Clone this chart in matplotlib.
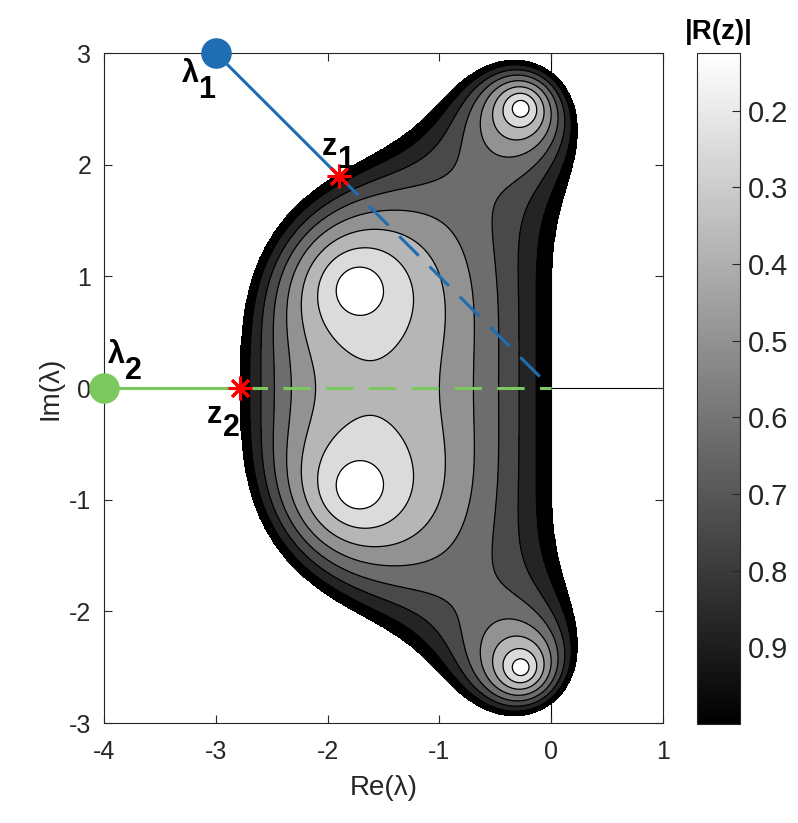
import numpy as np
import matplotlib
matplotlib.use("Agg")
import matplotlib.pyplot as plt
from matplotlib.colors import Normalize
import matplotlib.cm as cm

plt.rcParams['font.family'] = ['Liberation Sans', 'DejaVu Sans']
plt.rcParams['axes.unicode_minus'] = False

# stability polynomial (classical RK4): R(z) = sum c_k z^k
rk4_coeffs = [1.0, 1.0, 1 / 2, 1 / 6, 1 / 24]

# contour levels of |R(z)|
levels = [0.125, 0.25, 0.375, 0.5, 0.625, 0.75, 0.875, 1.0]
cbar_ticks = [0.2, 0.3, 0.4, 0.5, 0.6, 0.7, 0.8, 0.9]

# eigenvalues and scaled points on the stability boundary
lam1 = (-3.0, 3.0)
z1 = (-1.9, 1.9)
lam2 = (-4.0, 0.0)
z2 = (-2.78, 0.0)
origin = (0.0, 0.0)

blue = '#1f6db3'
green = '#7bc95e'

x = np.linspace(-4, 1, 1001)
y = np.linspace(-3, 3, 1201)
X, Y = np.meshgrid(x, y)
Zc = X + 1j * Y
R = np.zeros_like(Zc)
for k, c in enumerate(rk4_coeffs):
    R = R + c * Zc ** k
A = np.abs(R)
A = np.ma.masked_where(A > 1.0, A)

norm = Normalize(vmin=levels[0], vmax=levels[-1])
cmap = plt.get_cmap('gray_r')
band_colors = [cmap(norm(u)) for u in levels[1:]]

fig = plt.figure(figsize=(7.98, 8.23), dpi=100)
ax = fig.add_axes([0.1303, 0.1215, 0.7005, 0.8141])

# coordinate axes
ax.plot([-4, 1], [0, 0], color='black', lw=0.8, zorder=0)
ax.plot([0, 0], [-3, 3], color='black', lw=0.8, zorder=0)

ax.contourf(X, Y, A, levels=levels, colors=band_colors, zorder=1)
ax.contour(X, Y, A, levels=levels[:-1], colors='black', linewidths=0.9, zorder=2)

# lambda_1 path
ax.plot([lam1[0], z1[0]], [lam1[1], z1[1]], color=blue, lw=2.2, zorder=3)
ax.plot([z1[0], origin[0]], [z1[1], origin[1]], color=blue, lw=2.2,
        dashes=(9, 5), zorder=3)
ax.plot(*lam1, 'o', color=blue, ms=21, clip_on=False, zorder=5)
ax.plot(*z1, marker=(8, 2, 0), color='red', ms=17, mew=2.2, zorder=6)

# lambda_2 path
ax.plot([lam2[0], z2[0]], [lam2[1], z2[1]], color=green, lw=2.2, zorder=3)
ax.plot([z2[0], origin[0]], [z2[1], origin[1]], color=green, lw=2.2,
        dashes=(9, 5), zorder=3)
ax.plot(*lam2, 'o', color=green, ms=21, clip_on=False, zorder=5)
ax.plot(*z2, marker=(8, 2, 0), color='red', ms=17, mew=2.2, zorder=6)

# labels
lab = dict(fontsize=22, fontweight='bold', ha='center', va='center', zorder=7)
ax.text(-3.23, 2.81, 'λ', **lab)
ax.text(-3.08, 2.67, '1', **lab)
ax.text(-1.98, 2.16, 'z', **lab)
ax.text(-1.84, 2.04, '1', **lab)
ax.text(-3.89, 0.30, 'λ', **lab)
ax.text(-3.74, 0.15, '2', **lab)
ax.text(-3.01, -0.24, 'z', **lab)
ax.text(-2.86, -0.36, '2', **lab)

ax.set_xlim(-4, 1)
ax.set_ylim(-3, 3)
ax.set_xticks([-4, -3, -2, -1, 0, 1])
ax.set_yticks([-3, -2, -1, 0, 1, 2, 3])
ax.tick_params(direction='in', length=6, width=0.8, labelsize=18, colors='#262626',
               top=True, right=True)
ax.tick_params(axis='x', pad=12)
ax.tick_params(axis='y', pad=9)
for s in ax.spines.values():
    s.set_color('#262626')
    s.set_linewidth(0.8)
ax.set_xlabel('Re(λ)', fontsize=20, color='#262626', labelpad=8)
ax.set_ylabel('Im(λ)', fontsize=20, color='#262626', labelpad=4)

# colorbar
cax = fig.add_axes([0.8734, 0.1202, 0.0539, 0.8154])
sm = cm.ScalarMappable(norm=norm, cmap=cmap)
cb = fig.colorbar(sm, cax=cax, ticks=cbar_ticks)
cax.invert_yaxis()
cax.tick_params(direction='in', length=6, width=0.8, labelsize=21, colors='#262626',
                pad=6)
cb.outline.set_edgecolor('#262626')
cb.outline.set_linewidth(0.8)
cax.set_yticklabels([f'{t:.1f}' for t in cbar_ticks])
cax.set_title('|R(z)|', fontsize=20, fontweight='bold', pad=10)

fig.savefig('out.png', dpi=100)
